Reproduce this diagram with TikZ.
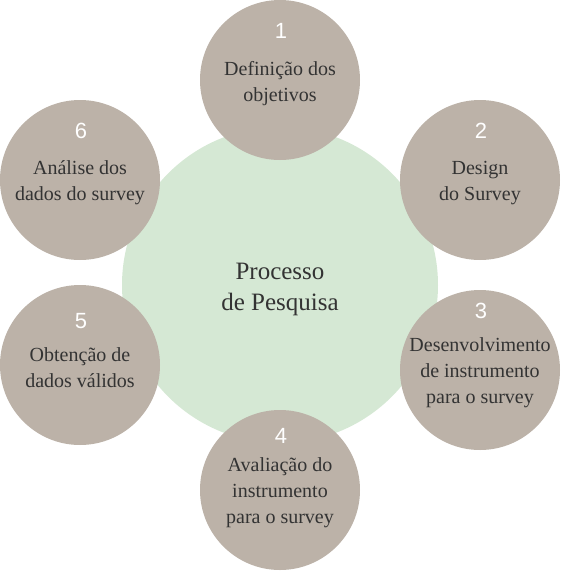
\documentclass[tikz,border=0pt]{standalone}
\usepackage{fontspec}
\setmainfont{Liberation Serif}
\setsansfont{Liberation Sans}
\definecolor{verdeclaro}{HTML}{D5E8D4}
\definecolor{cinza}{HTML}{BCB2A8}
\definecolor{texto}{HTML}{333333}
\begin{document}
\begin{tikzpicture}[x=1pt, y=-1pt,
  etapa/.style={circle, fill=cinza, draw=none, inner sep=0pt, minimum size=160pt},
  numero/.style={text=white, font=\sffamily\fontsize{22}{22}\selectfont, inner sep=0pt},
  rotulo/.style={text=texto, align=center, font=\fontsize{20}{26}\selectfont, inner sep=0pt}]

  \useasboundingbox (0,0) rectangle (561,571);

  % Círculo central
  \node[circle, fill=verdeclaro, inner sep=0pt, minimum size=316pt] (centro) at (280,285) {};
  \node[rotulo, font=\fontsize{25}{31}\selectfont] (tcentro) at (280,289) {Processo\\de Pesquisa};

  % Etapas ao redor
  \node[etapa] (c1) at (280,80) {};
  \node[etapa] (c2) at (480,180) {};
  \node[etapa] (c3) at (480,370) {};
  \node[etapa] (c4) at (280,490) {};
  \node[etapa] (c5) at (80,365) {};
  \node[etapa] (c6) at (80,180) {};

  % Números
  \node[numero] (n1) at (281,31) {1};
  \node[numero] (n2) at (481,131) {2};
  \node[numero] (n3) at (481,311) {3};
  \node[numero] (n4) at (281,436) {4};
  \node[numero] (n5) at (81,321) {5};
  \node[numero] (n6) at (81,131) {6};

  % Textos das etapas
  \node[rotulo] (t1) at (280,84) {Definição dos\\objetivos};
  \node[rotulo] (t2) at (480,183) {Design\\do Survey};
  \node[rotulo] (t3) at (480,373) {Desenvolvimento\\de instrumento\\para o survey};
  \node[rotulo] (t4) at (280,493) {Avaliação do\\instrumento\\para o survey};
  \node[rotulo] (t5) at (80,368) {Obtenção de\\dados válidos};
  \node[rotulo] (t6) at (80,183) {Análise dos\\dados do survey};

\end{tikzpicture}
\end{document}
